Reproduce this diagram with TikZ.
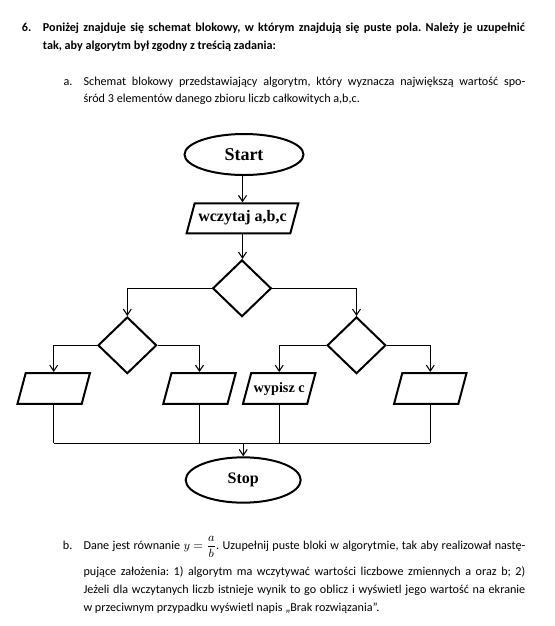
\documentclass[tikz,border=0pt]{standalone}
\usepackage{fontspec}
\usepackage{amsmath}
\setmainfont{Carlito}
\newfontfamily\timesfont{Liberation Serif}
\usetikzlibrary{shapes.geometric,arrows.meta}
\tikzset{
  block/.style={
    draw,
    line width=1.5pt,
    inner sep=0pt
  },
  term/.style={
    block,
    ellipse
  },
  cond/.style={
    block,
    diamond,
    minimum width=44pt,
    minimum height=42.5pt
  },
  io/.style={
    block,
    trapezium,
    trapezium left angle=75,
    trapezium right angle=105,
    trapezium stretches body,
    text height=14.9pt,
    text depth=8.3pt
  },
  arr/.style={
    line width=0.8pt,
    -{Straight Barb[length=4.5pt,width=6pt]}
  },
  ln/.style={
    line width=0.8pt
  },
  txt/.style={
    anchor=base west,
    inner sep=0pt,
    font=\fontsize{9.1}{11}\selectfont
  },
  txtb/.style={
    txt,
    font=\fontsize{9.1}{11}\selectfont\bfseries
  }
}
\frenchspacing

\begin{document}
\begin{tikzpicture}[x=0.75pt,y=-0.75pt]
    \useasboundingbox (0,0) rectangle (555,626);
    \def\wide{361.5pt}
    \def\narrow{331.3pt}
    % task text
    \node[txtb] (n6) at (21.7,31.7) {6.};
    \node[txtb] (q1) at (42.7,31.7) {\makebox[\wide][s]{Poniżej znajduje się schemat blokowy, w którym znajdują się puste pola. Należy je uzupełnić}};
    \node[txtb] (q2) at (42.7,49.3) {tak, aby algorytm był zgodny z treścią zadania:};
    \node[txt] (na) at (63.3,85) {a.};
    \node[txt] (a1) at (83.3,85) {\makebox[\narrow][s]{Schemat blokowy przedstawiający algorytm, który wyznacza największą wartość spo-}};
    \node[txt] (a2) at (83.3,102.3) {śród 3 elementów danego zbioru liczb całkowitych a,b,c.};
    % flow chart
    \node[term, minimum width=89.25pt, minimum height=30.75pt, font=\timesfont\bfseries\fontsize{13.5}{14}\selectfont] (start) at (244,154.5) {Start};
    \node[io, minimum width=83.8pt, text height=14pt, text depth=8.5pt, font=\timesfont\bfseries\fontsize{12}{13}\selectfont] (read) at (242.5,218.3) {wczytaj a,b,c};
    \node[cond] (d1) at (242,288.3) {};
    \node[cond] (d2) at (127.3,345.3) {};
    \node[cond] (d3) at (356.5,345.3) {};
    \node[io, minimum width=54.4pt] (p1) at (53.7,388.5) {};
    \node[io, minimum width=54.4pt] (p2) at (199.5,388.5) {};
    \node[io, minimum width=54.4pt, font=\timesfont\bfseries\fontsize{10.7}{12}\selectfont] (p3) at (279.2,388.5) {wypisz c};
    \node[io, minimum width=54.4pt] (p4) at (430.3,388.5) {};
    \node[term, minimum width=86.25pt, minimum height=34pt, font=\timesfont\bfseries\fontsize{12}{13}\selectfont] (stop) at (243.2,480) {Stop};
    \coordinate (join) at (243.2,443.3);
    \draw[arr] (read.north |- start.south) -- (read.north);
    \draw[arr] (read.south) -- (read.south |- d1.north);
    \draw[arr] (d1.west) -| (d2.north);
    \draw[arr] (d1.east) -| (d3.north);
    \draw[arr] (d2.west) -| (p1.north);
    \draw[arr] (d2.east) -| (p2.north);
    \draw[arr] (d3.west) -| (p3.north);
    \draw[arr] (d3.east) -| (p4.north);
    \draw[ln] (p1.south) -- (p1.south |- join);
    \draw[ln] (p2.south) -- (p2.south |- join);
    \draw[ln] (p3.south) -- (p3.south |- join);
    \draw[ln] (p4.south) -- (p4.south |- join);
    \draw[ln] (p1.south |- join) -- (p4.south |- join);
    \draw[arr] (join) -- (stop);
    % part b
    \node[txt] (nb) at (62.7,549) {b.};
    \node[txt] (b1) at (83.3,549) {\makebox[\narrow][s]{Dane jest równanie \hbox{$y=\dfrac{a}{b}$}. Uzupełnij puste bloki w algorytmie, tak aby realizował nastę-}};
    \node[txt] (b2) at (83.3,575.5) {\makebox[\narrow][s]{pujące założenia: 1) algorytm ma wczytywać wartości liczbowe zmiennych a oraz b; 2)}};
    \node[txt] (b3) at (83.3,593) {\makebox[\narrow][s]{Jeżeli dla wczytanych liczb istnieje wynik to go oblicz i wyświetl jego wartość na ekranie}};
    \node[txt] (b4) at (83.3,611) {w przeciwnym przypadku wyświetl napis „Brak rozwiązania”.};
\end{tikzpicture}
\end{document}
